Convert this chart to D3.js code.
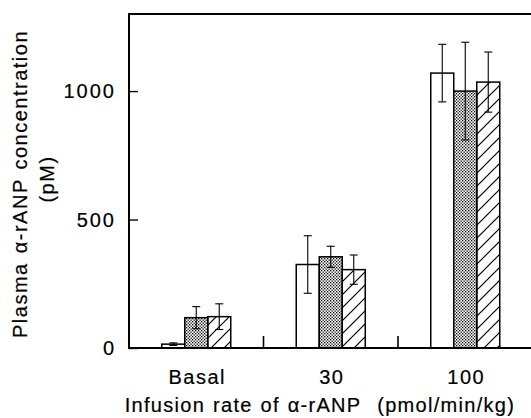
<!DOCTYPE html>
<html>
<head>
<meta charset="utf-8">
<script src="https://cdn.jsdelivr.net/npm/d3@7"></script>
<style>
  body { margin: 0; background: #fff; }
  svg text { font-family: "Liberation Sans", Arial, Helvetica, sans-serif; fill: #000; stroke: #000; stroke-width: 0.2px; }
</style>
</head>
<body>
<svg></svg>
<script>
// data
let categories = ['Basal', '30', '100'];
let seriesNames = ['open', 'dotted', 'hatched'];
let openMean = [15, 325, 1070];
let openErr = [5, 112, 112];
let dottedMean = [118, 355, 1000];
let dottedErr = [43, 41, 190];
let hatchedMean = [122, 305, 1035];
let hatchedErr = [50, 57, 117];
let yTicks = [0, 500, 1000];

let w = 531, h = 418;
let svg = d3.select('svg').attr('width', w).attr('height', h);

let rows = [];
categories.forEach((c, i) => {
  rows.push({cat: c, s: 'open', v: openMean[i], e: openErr[i]});
  rows.push({cat: c, s: 'dotted', v: dottedMean[i], e: dottedErr[i]});
  rows.push({cat: c, s: 'hatched', v: hatchedMean[i], e: hatchedErr[i]});
});

let padL = 129, baseY = 348, topY = 14;

let yScale = d3.scaleLinear().domain([0, 1300]).range([baseY, topY]);
let xScale = d3.scaleBand().domain(categories)
  .range([padL, 532.5]).paddingInner(0.487).paddingOuter(0.2435);
let xInner = d3.scaleBand().domain(seriesNames).range([0, xScale.bandwidth()]);

// fill patterns
let defs = svg.append('defs');
let dots = defs.append('pattern').attr('id', 'dots')
  .attr('patternUnits', 'userSpaceOnUse').attr('width', 3).attr('height', 3);
dots.append('rect').attr('width', 3).attr('height', 3).attr('fill', '#fff');
dots.append('rect').attr('x', 0).attr('y', 0).attr('width', 1.3).attr('height', 1.3).attr('fill', '#000');
dots.append('rect').attr('x', 1.5).attr('y', 1.5).attr('width', 1.3).attr('height', 1.3).attr('fill', '#000');

let hatch = defs.append('pattern').attr('id', 'hatch')
  .attr('patternUnits', 'userSpaceOnUse').attr('width', 13).attr('height', 13);
hatch.append('path').attr('d', 'M-1,14 L14,-1 M-2,2 L2,-2 M11,15 L15,11')
  .attr('stroke', '#000').attr('stroke-width', 1.2);

let fills = {open: '#fff', dotted: 'url(#dots)', hatched: 'url(#hatch)'};

// bars
svg.selectAll('rect.bar')
  .data(rows)
  .enter()
  .append('rect')
  .attr('class', 'bar')
  .attr('x', d => xScale(d.cat) + xInner(d.s))
  .attr('y', d => yScale(d.v))
  .attr('width', xInner.bandwidth())
  .attr('height', d => yScale(0) - yScale(d.v))
  .attr('fill', d => fills[d.s])
  .attr('stroke', '#000')
  .attr('stroke-width', 1.5);

// error bars
let errG = svg.append('g').attr('stroke', '#000').attr('stroke-width', 1.1);
rows.forEach(d => {
  let cx = xScale(d.cat) + xInner(d.s) + xInner.bandwidth() / 2;
  let y1 = yScale(d.v + d.e), y2 = yScale(d.v - d.e);
  errG.append('line').attr('x1', cx).attr('x2', cx).attr('y1', y1).attr('y2', y2);
  errG.append('line').attr('x1', cx - 4).attr('x2', cx + 4).attr('y1', y1).attr('y2', y1);
  errG.append('line').attr('x1', cx - 4).attr('x2', cx + 4).attr('y1', y2).attr('y2', y2);
});

// y axis with inward ticks
let yAxis = d3.axisRight(yScale).tickValues(yTicks).tickSize(9).tickFormat('');
let yg = svg.append('g').attr('transform', 'translate(' + padL + ',0)').call(yAxis);
yg.select('.domain').remove();
yg.selectAll('.tick line').attr('stroke-width', 1.4);
svg.append('line').attr('x1', padL).attr('x2', padL).attr('y1', topY).attr('y2', baseY)
  .attr('stroke', '#000').attr('stroke-width', 2);
svg.append('line').attr('x1', padL - 1).attr('x2', w).attr('y1', topY).attr('y2', topY)
  .attr('stroke', '#000').attr('stroke-width', 2);

svg.selectAll('text.ytick')
  .data(yTicks)
  .enter()
  .append('text')
  .attr('class', 'ytick')
  .attr('x', 116)
  .attr('y', d => yScale(d) + 7)
  .attr('text-anchor', 'end')
  .style('font-size', '20px')
  .style('letter-spacing', '2px')
  .text(d => d);

// x axis
svg.append('line').attr('x1', padL - 1).attr('x2', w).attr('y1', baseY).attr('y2', baseY)
  .attr('stroke', '#000').attr('stroke-width', 2);
let sep = categories.slice(1).map(c => xScale(c) - xScale.step() * xScale.paddingInner() / 2);
svg.selectAll('line.sep')
  .data(sep)
  .enter()
  .append('line')
  .attr('class', 'sep')
  .attr('x1', d => d).attr('x2', d => d)
  .attr('y1', baseY).attr('y2', baseY - 12)
  .attr('stroke', '#000').attr('stroke-width', 1.6);

svg.selectAll('text.xtick')
  .data(categories)
  .enter()
  .append('text')
  .attr('class', 'xtick')
  .attr('x', d => xScale(d) + xScale.bandwidth() / 2 + 1)
  .attr('y', 384)
  .attr('text-anchor', 'middle')
  .style('font-size', '20px')
  .style('letter-spacing', '1.5px')
  .text(d => d);

svg.append('text')
  .attr('x', 320).attr('y', 412)
  .attr('text-anchor', 'middle')
  .style('font-size', '20px')
  .style('letter-spacing', '1.3px')
  .style('word-spacing', '1px')
  .text('Infusion rate of α-rANP\u00a0 (pmol/min/kg)');

svg.append('text')
  .attr('transform', 'translate(27,184) rotate(-90)')
  .attr('text-anchor', 'middle')
  .style('font-size', '20px')
  .style('letter-spacing', '1.5px')
  .style('word-spacing', '2px')
  .text('Plasma α-rANP concentration');

svg.append('text')
  .attr('transform', 'translate(54,179) rotate(-90)')
  .attr('text-anchor', 'middle')
  .style('font-size', '20px')
  .style('letter-spacing', '1.5px')
  .text('(pM)');
</script>
</body>
</html>
